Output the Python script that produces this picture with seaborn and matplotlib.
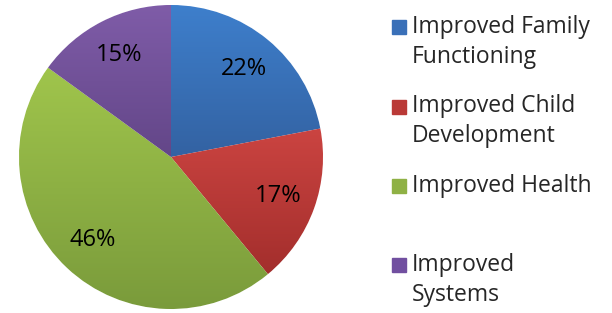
import numpy as np
import seaborn as sns
import matplotlib.pyplot as plt
from matplotlib.patches import Patch, Rectangle
from matplotlib.legend_handler import HandlerPatch
from matplotlib.colors import LinearSegmentedColormap

# outcome categories and their shares (%)
categories = ['Improved Family\nFunctioning', 'Improved Child\nDevelopment',
              'Improved Health\n ', 'Improved\nSystems']
shares = [22, 17, 46, 15]

# office style gradient, light at top -> dark at bottom
top_colors = ['#3E7FCC', '#CB4441', '#A0C54C', '#7F5CA8']
bottom_colors = ['#3362A2', '#A32E2C', '#7A9B3B', '#634688']
mid_colors = ['#3A70B8', '#BA3A37', '#8FB145', '#714FA0']

sns.set_theme(style='white')
plt.rcParams['font.family'] = ['Open Sans', 'DejaVu Sans']

fig = plt.figure(figsize=(6.12, 3.13), dpi=100)
ax = fig.add_axes([19 / 612, 4 / 313, 304 / 612, 304 / 313])

wedges, texts, autotexts = ax.pie(
    shares, startangle=90, counterclock=False, colors=mid_colors,
    autopct='%1.0f%%', pctdistance=0.75,
    textprops={'fontsize': 17, 'color': 'black'}
)

# gradient fill clipped to each wedge
grad = np.linspace(0, 1, 256).reshape(-1, 1)
for w, ct, cb in zip(wedges, top_colors, bottom_colors):
    bb = w.get_path().get_extents()
    cmap = LinearSegmentedColormap.from_list('g', [ct, cb])
    im = ax.imshow(grad, cmap=cmap, extent=(bb.x0, bb.x1, bb.y0, bb.y1),
                   origin='upper', aspect='auto', zorder=1.5)
    im.set_clip_path(w)
for t in autotexts:
    t.set_zorder(3)

ax.set_xlim(-1.0, 1.0)
ax.set_ylim(-1.0, 1.0)
ax.set_aspect('equal')
ax.axis('off')

FS = 16.5
PITCH = 30 * 72 / 100  # line pitch in points
SQ = 14 * 72 / 100     # square size in points


def top_square(legend, orig_handle, xdescent, ydescent, width, height, fontsize):
    yc = PITCH + 0.36 * fontsize - 10.4
    return Rectangle((-xdescent, yc - SQ / 2), SQ, SQ)


handles = [Patch(color=c) for c in mid_colors]
leg = fig.legend(handles, categories, loc='upper left',
                 bbox_to_anchor=(392 / 612, 1 - 15 / 313),
                 frameon=False, fontsize=FS, borderpad=0, borderaxespad=0,
                 handlelength=SQ / FS, handleheight=1.0,
                 handletextpad=6 * 72 / 100 / FS, labelspacing=1.1,
                 handler_map={Patch: HandlerPatch(patch_func=top_square)})
for t in leg.get_texts():
    t.set_linespacing(1.34)

fig.savefig('out.png', dpi=100)
